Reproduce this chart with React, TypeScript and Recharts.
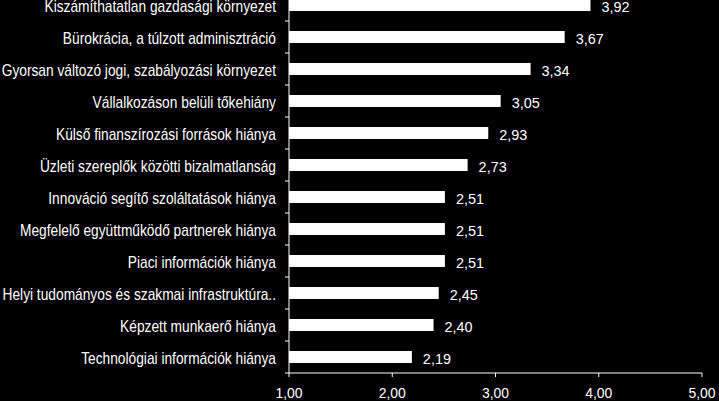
import React from 'react';
import { BarChart, Bar, XAxis, YAxis, LabelList } from 'recharts';

const categories = [
  'Kiszámíthatatlan gazdasági környezet',
  'Bürokrácia, a túlzott adminisztráció',
  'Gyorsan változó jogi, szabályozási környezet',
  'Vállalkozáson belüli tőkehiány',
  'Külső finanszírozási források hiánya',
  'Üzleti szereplők közötti bizalmatlanság',
  'Innováció segítő szoláltatások hiánya',
  'Megfelelő együttműködő partnerek hiánya',
  'Piaci információk hiánya',
  'Helyi tudományos és szakmai infrastruktúra..',
  'Képzett munkaerő hiánya',
  'Technológiai információk hiánya',
];
const values = [3.92, 3.67, 3.34, 3.05, 2.93, 2.73, 2.51, 2.51, 2.51, 2.45, 2.4, 2.19];
const xTicks = [1, 2, 3, 4, 5];

const data = categories.map((name, i) => ({ name, value: values[i] }));

const FONT = '"Liberation Sans", Arial, sans-serif';
const fmt = (v: number) => v.toFixed(2).replace('.', ',');

const TICK_SIZE = 4;
const TICK_MARGIN = 9;
const BAND = 32;

const YTick = (props: any) => {
  const { x, y, payload } = props;
  const axisX = x + TICK_MARGIN + TICK_SIZE;
  return (
    <g>
      <text
        transform={`translate(${x},${y + 6.7}) scale(0.86,1)`}
        x={0}
        y={0}
        textAnchor="end"
        fill="#ffffff"
        fontSize={16}
        fontFamily={FONT}
      >
        {payload.value}
      </text>
      <line x1={axisX - 4} x2={axisX} y1={y + BAND / 2} y2={y + BAND / 2} stroke="#ffffff" strokeWidth={1} />
    </g>
  );
};

const XTick = (props: any) => {
  const { x, y, payload } = props;
  return (
    <text
      transform={`translate(${x},${y + 21}) scale(0.9,1)`}
      x={0}
      y={0}
      textAnchor="middle"
      fill="#ffffff"
      fontSize={15.5}
      fontFamily={FONT}
    >
      {fmt(Number(payload.value))}
    </text>
  );
};

const ValueLabel = (props: any) => {
  const { x, y, width, height, value } = props;
  const tx = Number(x) + Number(width) + 11;
  const ty = Number(y) + Number(height) / 2 + 6.5;
  return (
    <text
      transform={`translate(${tx},${ty}) scale(0.93,1)`}
      x={0}
      y={0}
      textAnchor="start"
      fill="#ffffff"
      fontSize={15.5}
      fontFamily={FONT}
    >
      {fmt(Number(value))}
    </text>
  );
};

export default function App() {
  return (
    <div style={{ position: 'fixed', left: 0, top: 0, width: 719, height: 401, background: '#000', overflow: 'hidden' }}>
      <div style={{ position: 'absolute', left: 0, top: -11 }}>
        <BarChart
          width={719}
          height={412}
          data={data}
          layout="vertical"
          margin={{ top: 0, right: 17, bottom: 0, left: 0 }}
        >
          <XAxis
            type="number"
            domain={[1, 5]}
            ticks={xTicks}
            interval={0}
            allowDataOverflow
            height={28}
            tickSize={4}
            tickMargin={0}
            stroke="#ffffff"
            tick={<XTick />}
          />
          <YAxis
            type="category"
            dataKey="name"
            width={289}
            interval={0}
            tickLine={false}
            tickSize={TICK_SIZE}
            tickMargin={TICK_MARGIN}
            stroke="#ffffff"
            tick={<YTick />}
          />
          <Bar dataKey="value" fill="#ffffff" barSize={12} isAnimationActive={false}>
            <LabelList dataKey="value" content={<ValueLabel />} />
          </Bar>
        </BarChart>
      </div>
    </div>
  );
}
